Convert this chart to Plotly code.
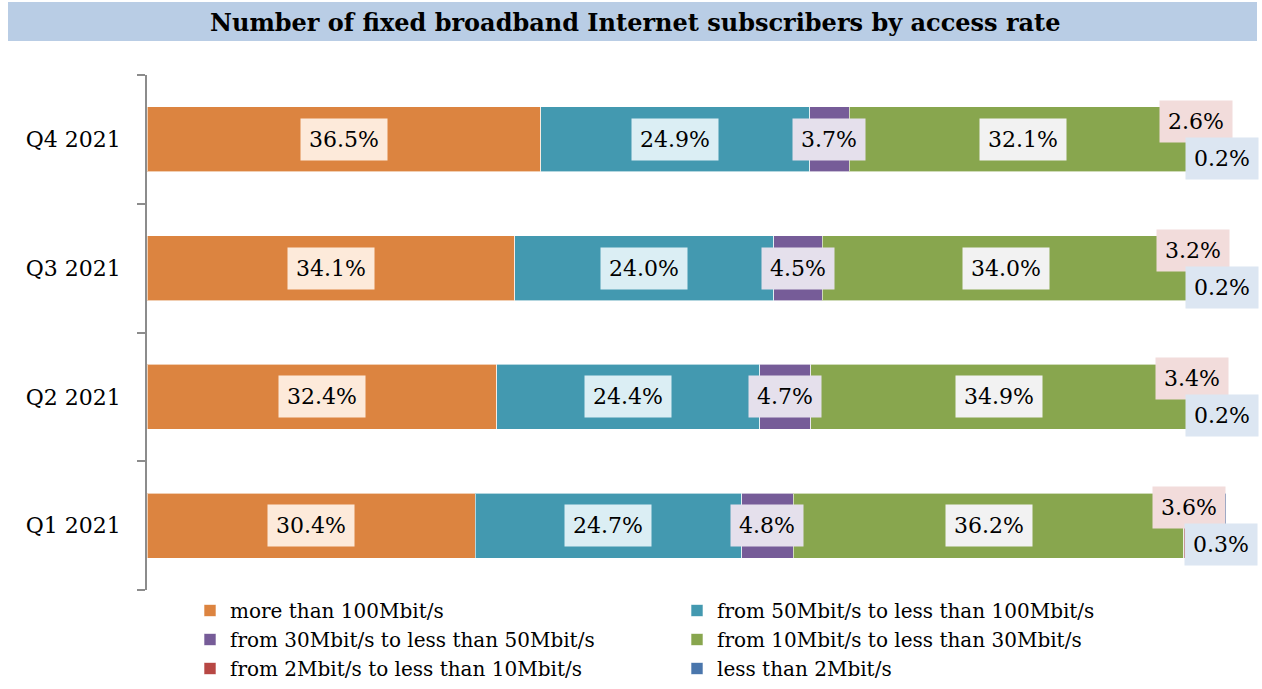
import plotly.graph_objects as go

quarters = ["Q1 2021", "Q2 2021", "Q3 2021", "Q4 2021"]
series_names = [
    "more than 100Mbit/s",
    "from 50Mbit/s to less than 100Mbit/s",
    "from 30Mbit/s to less than 50Mbit/s",
    "from 10Mbit/s to less than 30Mbit/s",
    "from 2Mbit/s to less than 10Mbit/s",
    "less than 2Mbit/s",
]
more_100 = [30.4, 32.4, 34.1, 36.5]
from_50_100 = [24.7, 24.4, 24.0, 24.9]
from_30_50 = [4.8, 4.7, 4.5, 3.7]
from_10_30 = [36.2, 34.9, 34.0, 32.1]
from_2_10 = [3.6, 3.4, 3.2, 2.6]
less_2 = [0.3, 0.2, 0.2, 0.2]

series_values = [more_100, from_50_100, from_30_50, from_10_30, from_2_10, less_2]
colors = ["#DC8440", "#4399B0", "#765C98", "#88A64E", "#B74744", "#4A76AC"]
label_bg = ["#FDEADA", "#DBEEF4", "#E5E0EC", "#F2F2F2", "#F2DCDB", "#DCE6F2"]
# label offsets (px) for the two thin segments
label_shift = [(0, 0), (0, 0), (0, 0), (0, 0), (-14, 18), (-3, -19)]

FONT = "DejaVu Serif"
W, H = 1262, 689
ML, MR, MT, MB = 147, 36, 75, 99
PW = W - ML - MR
PH = H - MT - MB

fig = go.Figure()
for name, vals, col in zip(series_names, series_values, colors):
    fig.add_trace(go.Bar(
        y=quarters, x=vals, name=name, orientation="h",
        marker=dict(color=col, line=dict(color="rgba(255,255,255,0.6)", width=1)),
        hoverinfo="x+name",
    ))

annotations = []
base = [0.0] * len(quarters)
for si, vals in enumerate(series_values):
    for qi, v in enumerate(vals):
        cx = base[qi] + v / 2
        dx, dy = label_shift[si]
        annotations.append(dict(
            x=cx, y=quarters[qi], xref="x", yref="y",
            text=f"{v:.1f}%", showarrow=False,
            font=dict(family=FONT, size=22, color="black"),
            bgcolor=label_bg[si], borderpad=8,
            xshift=dx, yshift=dy,
        ))
        base[qi] += v

# title
annotations.append(dict(
    x=(635 - ML) / PW, y=1 + (MT - 22) / PH, xref="paper", yref="paper",
    text="<b>Number of fixed broadband Internet subscribers by access rate</b>",
    showarrow=False, xanchor="center", yanchor="middle",
    font=dict(family=FONT, size=24, color="black"),
))

shapes = [dict(
    type="rect", xref="paper", yref="paper",
    x0=(8 - ML) / PW, x1=(1257 - ML) / PW,
    y0=1 + (MT - 41) / PH, y1=1 + (MT - 2) / PH,
    fillcolor="#B9CDE5", line=dict(width=0), layer="below",
)]

fig.update_layout(
    width=W, height=H,
    margin=dict(l=ML, r=MR, t=MT, b=MB, autoexpand=False),
    barmode="stack", bargap=0.495,
    plot_bgcolor="white", paper_bgcolor="white",
    font=dict(family=FONT, size=20, color="black"),
    showlegend=True,
    legend=dict(
        orientation="h", x=(190 - ML) / PW, xanchor="left",
        y=-1 / PH, yanchor="top",
        entrywidth=442, entrywidthmode="pixels",
        font=dict(family=FONT, size=20, color="black"),
        traceorder="normal", bgcolor="rgba(0,0,0,0)",
    ),
    xaxis=dict(range=[0, 100], visible=False, showgrid=False, fixedrange=True),
    yaxis=dict(
        categoryorder="array", categoryarray=quarters,
        showline=True, linecolor="#8C8C8C", linewidth=1.5,
        ticks="outside", tickson="boundaries", ticklen=8, tickcolor="#8C8C8C",
        tickwidth=1.5, showgrid=False, ticklabelstandoff=20,
        tickfont=dict(family=FONT, size=22, color="black"),
    ),
    annotations=annotations,
    shapes=shapes,
)

fig.write_html(
    "out.html",
    config={"displayModeBar": False},
    post_script="document.body.style.margin='0';document.body.style.overflow='hidden';",
)
